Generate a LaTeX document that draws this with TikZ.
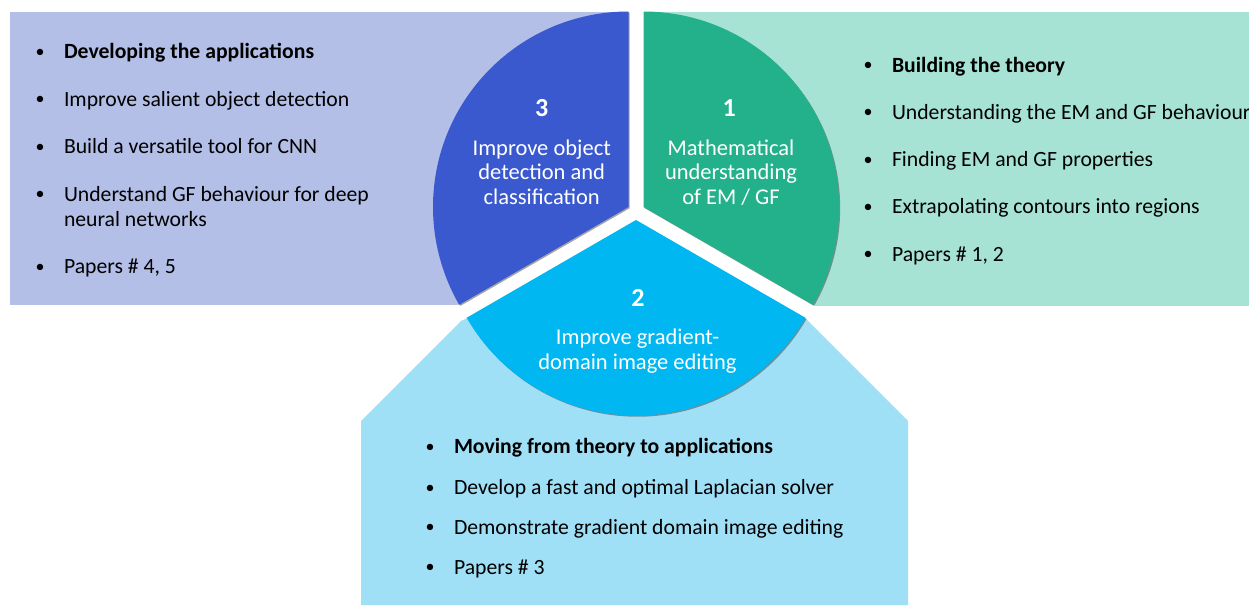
\documentclass[tikz,border=0pt]{standalone}
\usepackage{fontspec}
\setmainfont{Carlito}
\usetikzlibrary{shadows}

\definecolor{appsback}{HTML}{B4BFE8}
\definecolor{theoryback}{HTML}{A7E3D5}
\definecolor{editback}{HTML}{A0E0F7}
\definecolor{appsseg}{HTML}{3B59CE}
\definecolor{theoryseg}{HTML}{23B18B}
\definecolor{editseg}{HTML}{00B7F2}

% small bullet set 24pt to the left of the item text
\newcommand\itembullet{\llap{\makebox[10pt][c]{\raisebox{1.3pt}{\fontsize{18}{18}\selectfont\mdseries •}}\hspace{19pt}}}

\begin{document}
\begin{tikzpicture}[x=1pt, y=-1pt,
  itemtext/.style={inner sep=0pt, outer sep=0pt, text=black, anchor=base west,
    align=left, font=\fontsize{21.7}{25.7}\selectfont},
  itemhead/.style={itemtext, font=\fontsize{21.7}{25.7}\selectfont\bfseries},
  segnum/.style={inner sep=0pt, text=white, anchor=base,
    font=\fontsize{26}{30}\selectfont\bfseries},
  seglabel/.style={inner sep=0pt, text=white, anchor=base, align=center,
    font=\fontsize{22.5}{24.3}\selectfont},
  sector/.style={drop shadow={shadow xshift=1.2pt, shadow yshift=-1.2pt,
    opacity=0.35, fill=black}},
  gapline/.style={white, line width=15.4pt}
]
\useasboundingbox (0,0) rectangle (1249,605);
\clip (0,0) rectangle (1249,605);

% background panels
\fill[editback] (361,605) -- (361,421) -- (634.5,147.5) -- (908,421) -- (908,605) -- cycle;
\fill[appsback] (10,12) rectangle (636,305);
\fill[theoryback] (636,12) rectangle (1260,305.5);

% white gaps between the three sectors
\coordinate (centre) at (636,211.3);
\draw[gapline] (centre) -- ++(-90:205);
\draw[gapline] (centre) -- ++(150:205);
\draw[gapline] (centre) -- ++(30:205);

% exploded pie: three sectors
\coordinate (apexA) at (628.5,207);
\coordinate (apexT) at (643.5,207);
\coordinate (apexE) at (636,220);
\fill[appsseg, sector] (apexA) -- ++(-90:195.5) arc[start angle=-90, end angle=-210, radius=195.5] -- cycle;
\fill[theoryseg, sector] (apexT) -- ++(-90:195.5) arc[start angle=-90, end angle=30, radius=195.5] -- cycle;
\fill[editseg, sector] (apexE) -- ++(150:195.5) arc[start angle=150, end angle=30, radius=195.5] -- cycle;

% sector labels (a multi-line node sits on its last baseline)
\node[segnum] (num3) at (541.7,116.5) {3};
\node[seglabel] (lab3) at (541.7,204) {Improve object\\detection and\\classification};
\node[segnum] (num1) at (729.3,116.5) {1};
\node[seglabel] (lab1) at (731,204) {Mathematical\\understanding\\of EM / GF};
\node[segnum] (num2) at (638,306.5) {2};
\node[seglabel] (lab2) at (637.5,369) {Improve gradient-\\domain image editing};

% applications list
\node[itemhead] (apps1) at (64,58.5) {\itembullet Developing the applications};
\node[itemtext] (apps2) at (64,106) {\itembullet Improve salient object detection};
\node[itemtext] (apps3) at (64,153.5) {\itembullet Build a versatile tool for CNN};
\node[itemtext] (apps4) at (64,226.7) {\itembullet Understand GF behaviour for deep\\neural networks};
\node[itemtext] (apps5) at (64,273.5) {\itembullet Papers \# 4, 5};

% theory list
\node[itemhead] (theo1) at (892,72) {\itembullet Building the theory};
\node[itemtext] (theo2) at (892,119) {\itembullet Understanding the EM and GF behaviour};
\node[itemtext] (theo3) at (892,166.3) {\itembullet Finding EM and GF properties};
\node[itemtext] (theo4) at (892,213.7) {\itembullet Extrapolating contours into regions};
\node[itemtext] (theo5) at (892,261) {\itembullet Papers \# 1, 2};

% image editing list
\node[itemhead] (edit1) at (454,453.7) {\itembullet Moving from theory to applications};
\node[itemtext] (edit2) at (454,494.3) {\itembullet Develop a fast and optimal Laplacian solver};
\node[itemtext] (edit3) at (454,534) {\itembullet Demonstrate gradient domain image editing};
\node[itemtext] (edit4) at (454,574) {\itembullet Papers \# 3};
\end{tikzpicture}
\end{document}
